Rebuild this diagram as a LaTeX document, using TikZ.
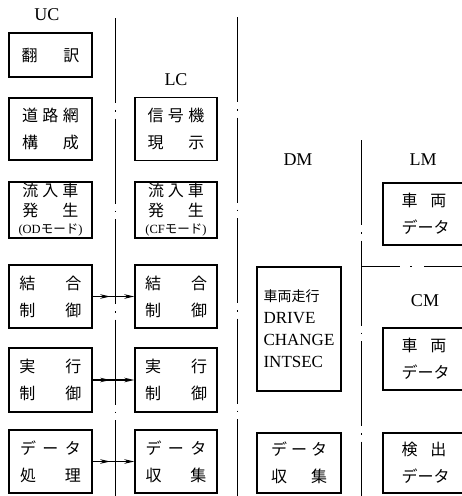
\documentclass[tikz,border=0pt]{standalone}
\usepackage{fontspec}
\setmainfont{Liberation Serif}
\newfontfamily\jp{Noto Sans CJK JP}
\usetikzlibrary{arrows.meta,decorations.markings}
\newcommand\spr[2]{\makebox[#1][s]{#2}}
\begin{document}
\begin{tikzpicture}[x=1pt,y=-1pt,
  box/.style={draw,line width=1.4pt,inner sep=0pt,align=center,font=\jp\fontsize{16}{27}\selectfont},
  box3/.style={box,font=\jp\fontsize{16}{20}\selectfont},
  lab/.style={font=\fontsize{18}{18}\selectfont},
  sep/.style={line width=0.8pt,dash pattern=on 85pt off 7pt on 1.5pt off 7pt},
  tip/.style={Stealth[length=10pt,width=4.5pt]},
  link/.style={line width=1.2pt,-{Stealth[length=10pt,width=4.5pt]},postaction={decorate},
    decoration={markings,mark=at position 0.42 with {\arrow{Stealth[length=10pt,width=4.5pt]}}}}]
\useasboundingbox (0,0) rectangle (462,496);
\clip (0,0) rectangle (462,496);
% separators
\draw[sep] (115,18) -- (115,496);
\draw[sep] (237,17) -- (237,496);
\draw[sep] (361,140) -- (361,496);
\draw[line width=0.8pt,dash pattern=on 39pt off 10pt on 2pt off 12pt on 80pt off 4pt] (361,266) -- (462,266);
% labels
\node[lab] (tUC) at (47,15) {UC};
\node[lab] (tLC) at (176,80) {LC};
\node[lab] (tDM) at (298,160) {DM};
\node[lab] (tLM) at (423,160) {LM};
\node[lab] (tCM) at (425,301) {CM};
% UC column
\node[box,minimum width=83pt,minimum height=44pt] (uc1) at (50.5,55) {\spr{58pt}{翻\hfill 訳}};
\node[box,minimum width=83pt,minimum height=62pt] (uc2) at (50.5,129) {\spr{57pt}{道\hfill 路\hfill 網}\\\spr{57pt}{構\hfill 成}};
\node[box3,minimum width=83pt,minimum height=56pt] (uc3) at (50.5,210) {\spr{56pt}{流\hfill 入\hfill 車}\\\spr{56pt}{発\hfill 生}\\[-3pt]{\fontsize{12.5}{12.5}\selectfont\rmfamily (OD{\jp モード})}};
\node[box,minimum width=83pt,minimum height=63pt] (uc4) at (50.5,296.5) {\spr{62pt}{結\hfill 合}\\\spr{62pt}{制\hfill 御}};
\node[box,minimum width=83pt,minimum height=64pt] (uc5) at (50.5,380) {\spr{62pt}{実\hfill 行}\\\spr{62pt}{制\hfill 御}};
\node[box,minimum width=83pt,minimum height=63pt] (uc6) at (50.5,461.5) {\spr{61pt}{デ\hfill ー\hfill タ}\\\spr{61pt}{処\hfill 理}};
% LC column
\node[box,minimum width=82pt,minimum height=63pt] (lc2) at (176,129) {\spr{57pt}{信\hfill 号\hfill 機}\\\spr{57pt}{現\hfill 示}};
\node[box3,minimum width=82pt,minimum height=56pt] (lc3) at (176,210) {\spr{56pt}{流\hfill 入\hfill 車}\\\spr{56pt}{発\hfill 生}\\[-3pt]{\fontsize{12.5}{12.5}\selectfont\rmfamily (CF{\jp モード})}};
\node[box,minimum width=82pt,minimum height=63pt] (lc4) at (176,296.5) {\spr{62pt}{結\hfill 合}\\\spr{62pt}{制\hfill 御}};
\node[box,minimum width=82pt,minimum height=64pt] (lc5) at (176,380) {\spr{62pt}{実\hfill 行}\\\spr{62pt}{制\hfill 御}};
\node[box,minimum width=82pt,minimum height=63pt] (lc6) at (176,461.5) {\spr{61pt}{デ\hfill ー\hfill タ}\\\spr{61pt}{収\hfill 集}};
% DM column
\node[box,minimum width=84pt,minimum height=124pt,align=left,font=\fontsize{17}{22}\selectfont] (dm1) at (299,329)
  {{\jp\fontsize{14}{22}\selectfont 車両走行}\\DRIVE\\CHANGE\\INTSEC};
\node[box,minimum width=84pt,minimum height=60pt] (dm2) at (299,463) {\spr{56pt}{デ\hfill ー\hfill タ}\\\spr{56pt}{収\hfill 集}};
% LM / CM column
\node[box,minimum width=82pt,minimum height=62pt] (lm1) at (424,214) {\spr{45pt}{車\hfill 両}\\\spr{45pt}{デ\hfill ー\hfill タ}};
\node[box,minimum width=82pt,minimum height=62pt] (cm1) at (424,359) {\spr{45pt}{車\hfill 両}\\\spr{45pt}{デ\hfill ー\hfill タ}};
\node[box,minimum width=82pt,minimum height=60pt] (cm2) at (424,463) {\spr{45pt}{検\hfill 出}\\\spr{45pt}{デ\hfill ー\hfill タ}};
% connectors
\draw[link] (uc4.east) -- (lc4.west);
\draw[link] (uc5.east) -- (lc5.west);
\draw[link] (uc6.east) -- (lc6.west);
\end{tikzpicture}
\end{document}
